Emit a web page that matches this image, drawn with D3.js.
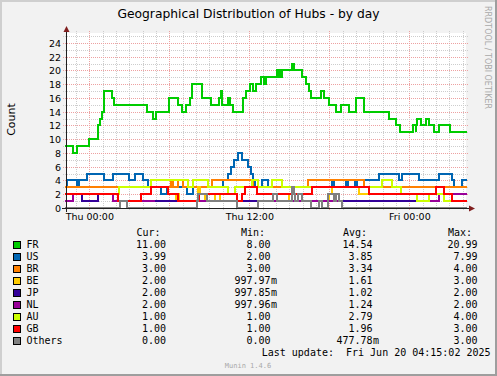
<!DOCTYPE html>
<html>
<head>
<meta charset="utf-8">
<script src="https://cdn.jsdelivr.net/npm/d3@7"></script>
<style>
html, body { margin: 0; padding: 0; background: #f2f2f2; }
svg { display: block; }
</style>
</head>
<body>
<div id="chart"></div>
<script>
// series names + munin colours, drawn in this order
var names  = ["FR", "US", "BR", "BE", "JP", "NL", "AU", "GB", "Others"];
var colors = ["#00cc00", "#0066b3", "#ff8000", "#ffcc00", "#330099", "#990099", "#ccff00", "#ff0000", "#808080"];

// step data: [hours since Thu 00:00, value]  (null = unknown)
var fr = [[-1.75,9],[-1.22,8],[-0.92,9],[0,10],[0.65,12],[0.80,13],[0.95,14],[1.10,17],[1.70,16],[1.85,15],
  [4.33,14],[4.78,13],[5.00,14],[5.98,16],[6.67,15],[6.95,14],[7.25,15],[7.55,16],[7.72,18],[8.47,16],
  [9.10,15],[9.73,16],[9.85,17],[9.95,15],[10.40,16],[10.55,15],[10.78,14],[11.53,16],[11.77,17],[12.03,18],
  [12.28,17],[12.48,18],[12.85,19],[13.10,18],[13.25,19],[14.10,20],[14.19,19],[14.30,20],[14.38,19],[14.45,20],
  [15.20,21],[15.35,20],[15.97,19],[16.23,18],[16.48,17],[16.60,16],[17.35,17],[17.60,16],[17.98,15],[18.48,14],
  [18.85,15],[19.48,14],[19.98,16],[20.60,14],[22.48,13],[23.02,12],[23.28,11],[24.28,12],[24.48,11],[24.52,12],
  [24.60,13],[24.85,12],[25.23,13],[25.48,12],[25.85,11],[26.23,12],[27.03,11]];
var us = [[-1.75,3],[-1.67,4],[-0.92,3],[-0.77,4],[-0.17,5],[1.08,4],[1.75,5],[3.00,4],[3.43,5],[4.00,4],
  [4.42,3],[5.38,2],[5.83,3],[7.33,2],[7.78,3],[10.06,4],[10.42,5],[10.63,6],[10.87,7],[11.17,8],
  [11.43,7],[11.92,6],[12.13,5],[12.30,4],[12.43,3],[12.93,4],[13.38,3],[18.20,4],[18.35,3],[19.25,4],
  [19.40,3],[19.93,4],[20.08,3],[20.60,4],[21.73,5],[23.23,4],[23.45,5],[24.73,4],[26.23,5],[27.20,4],
  [27.35,3],[27.95,4]];
var br = [[-1.75,3],[6.13,4],[6.28,3],[6.65,4],[7.03,3],[9.18,4],[12.30,3],[16.42,4],[20.60,3]];
var be = [[-1.75,2],[2.13,1],[6.50,2],[6.69,1],[8.13,3],[8.30,2],[8.68,1],[9.43,2],[9.80,1],[14.98,2],
  [15.42,1],[17.98,2],[18.20,3],[20.23,2]];
var jp = [[-1.75,1],[-1.25,2],[-0.55,1],[0.67,2],[1.75,1],[24.58,2]];
var nl = [[-1.75,1],[-1.25,2],[1.75,1],[4.87,null],[8.22,1],[11.05,null],[12.67,1],[18.95,null],[25.48,1],[26.23,2]];
var au = [[-1.75,2],[2.25,3],[4.63,4],[7.38,3],[7.75,4],[8.92,3],[10.42,2],[10.93,3],[12.18,4],[12.67,3],
  [13.68,4],[14.43,3],[21.97,4],[22.68,3],[23.35,2],[24.58,1],[25.48,2],[26.60,1]];
var gb = [[-1.75,2],[2.13,1],[3.88,2],[4.63,3],[5.88,2],[6.63,1],[8.25,2],[11.05,1],[11.43,2],[11.68,3],
  [12.55,2],[16.68,3],[20.98,2],[25.98,3],[26.60,2],[27.20,1]];
var others = [[-1.75,0],[2.30,1],[2.80,0],[8.08,1],[8.15,2],[8.83,1],[11.05,0],[12.67,1],[13.78,2],[14.10,1],
  [15.20,3],[15.35,2],[15.42,1],[15.65,2],[15.97,1],[16.60,0],[17.23,1],[17.45,0],[17.90,2],[18.35,1],
  [18.50,2],[18.73,1],[18.95,0]];
var series = [fr, us, br, be, jp, nl, au, gb, others];

// legend figures
var curVals = [11.00, 3.99, 3.00, 2.00, 2.00, 2.00, 1.00, 1.00, 0.00];
var minVals = [8.00, 2.00, 3.00, 0.99797, 0.99785, 0.99796, 1.00, 1.00, 0.00];
var avgVals = [14.54, 3.85, 3.34, 1.61, 1.02, 1.24, 2.79, 1.96, 0.47778];
var maxVals = [20.99, 7.99, 4.00, 3.00, 2.00, 2.00, 4.00, 3.00, 3.00];
var yTicks = [0, 2, 4, 6, 8, 10, 12, 14, 16, 18, 20, 22, 24];
var yMax = 25.45;

var W = 497, H = 376;
var t0 = new Date(2025, 5, 19, 0, 0, 0);          // Thu 00:00
var tStart = new Date(2025, 5, 18, 22, 15, 2);
var tEnd = new Date(2025, 5, 20, 4, 15, 2);
function at(h) { return new Date(+t0 + h * 3600e3); }

var x = d3.scaleTime().domain([tStart, tEnd]).range([66, 466]).clamp(true);
var y = d3.scaleLinear().domain([0, yMax]).range([208, 33]);

var svg = d3.select("#chart").append("svg")
    .attr("width", W)
    .attr("height", H)
    .attr("shape-rendering", "crispEdges");

// background + 3d frame
svg.append("rect").attr("width", W).attr("height", H).attr("fill", "#f2f2f2");
svg.append("rect").attr("x", 0).attr("y", 0).attr("width", W).attr("height", 2).attr("fill", "#cfcfcf");
svg.append("rect").attr("x", 0).attr("y", 0).attr("width", 2).attr("height", H).attr("fill", "#cfcfcf");
svg.append("rect").attr("x", 0).attr("y", H - 2).attr("width", W).attr("height", 2).attr("fill", "#9e9e9e");
svg.append("rect").attr("x", W - 2).attr("y", 0).attr("width", 2).attr("height", H).attr("fill", "#9e9e9e");

// canvas
svg.append("rect").attr("x", 66).attr("y", 33).attr("width", 400).attr("height", 175).attr("fill", "#ffffff");

// grid
var grid = svg.append("g").attr("stroke-dasharray", "1,1").attr("stroke-width", 1);
x.ticks(d3.timeHour.every(1)).forEach(function(t) {
  var xx = Math.round(x(t)) + 0.5;
  var major = t.getHours() % 6 == 0;
  grid.append("line")
      .attr("x1", xx).attr("x2", xx).attr("y1", 31).attr("y2", 211)
      .attr("stroke", major ? "#eda1a1" : "#cdcdcd");
});
d3.range(1, 26).forEach(function(v) {
  var yy = Math.round(y(v)) + 0.5;
  grid.append("line")
      .attr("x1", 63).attr("x2", 469).attr("y1", yy).attr("y2", yy)
      .attr("stroke", v % 2 == 0 ? "#eda1a1" : "#cdcdcd");
});

// turn [t, v] change points into explicit steps
function steps(s) {
  var pts = [];
  for (var i = 0; i < s.length; i++) {
    var tEndSeg = i + 1 < s.length ? at(s[i + 1][0]) : tEnd;
    pts.push({t: at(s[i][0]), v: s[i][1]});
    pts.push({t: tEndSeg, v: s[i][1]});
  }
  return pts;
}

var line = d3.line()
    .defined(function(d) { return d.v != null; })
    .x(function(d) { return Math.round(x(d.t)); })
    .y(function(d) { return Math.round(y(d.v)); });

var plot = svg.append("g");
series.forEach(function(s, i) {
  plot.append("path")
      .attr("d", line(steps(s)))
      .attr("fill", "none")
      .attr("stroke", colors[i])
      .attr("stroke-width", 2)
      .attr("stroke-linejoin", "miter")
      .attr("stroke-linecap", "square");
});

// axes lines + arrows
svg.append("line").attr("x1", 62).attr("x2", 470).attr("y1", 208.5).attr("y2", 208.5)
    .attr("stroke", "#1f1f1f");
svg.append("line").attr("x1", 66.5).attr("x2", 66.5).attr("y1", 212).attr("y2", 29)
    .attr("stroke", "#1f1f1f");
svg.append("path").attr("d", "M469,205.5L475,208.5L469,211.5Z").attr("fill", "#801f1f")
    .attr("shape-rendering", "auto");
svg.append("path").attr("d", "M63.5,32L66.5,26L69.5,32Z").attr("fill", "#801f1f")
    .attr("shape-rendering", "auto");

// axis labels through d3 axes
var xAxis = d3.axisBottom(x)
    .ticks(d3.timeHour.every(12))
    .tickFormat(d3.timeFormat("%a %H:%M"))
    .tickSize(0)
    .tickPadding(0);
var gx = svg.append("g").attr("transform", "translate(0,220)").call(xAxis);
gx.select(".domain").remove();
gx.selectAll("text")
    .attr("dy", 0)
    .attr("font-family", "DejaVu Sans")
    .attr("font-size", 9.5)
    .attr("fill", "#000");

var yAxis = d3.axisLeft(y).tickValues(yTicks).tickSize(0).tickPadding(0);
var gy = svg.append("g").attr("transform", "translate(61,0)").call(yAxis);
gy.select(".domain").remove();
gy.selectAll("text")
    .attr("dy", "0.36em")
    .attr("x", 0)
    .attr("font-family", "DejaVu Sans")
    .attr("font-size", 9.5)
    .attr("fill", "#000");

// title, vertical label, watermark
svg.append("text")
    .attr("x", 248.5).attr("y", 17.5)
    .attr("text-anchor", "middle")
    .attr("font-family", "DejaVu Sans")
    .attr("font-size", 12.3)
    .text("Geographical Distribution of Hubs - by day");

svg.append("text")
    .attr("transform", "translate(15,119.5) rotate(-90)")
    .attr("text-anchor", "middle")
    .attr("font-family", "DejaVu Sans")
    .attr("font-size", 11)
    .text("Count");

svg.append("text")
    .attr("transform", "translate(485,6) rotate(90)")
    .attr("font-family", "DejaVu Sans")
    .attr("font-size", 8)
    .attr("fill", "#a9a9a9")
    .text("RRDTOOL / TOBI OETIKER");

// legend
function fmt(v) {
  if (v != 0 && Math.abs(v) < 1) return {n: (v * 1000).toFixed(2), s: "m"};
  return {n: v.toFixed(2), s: ""};
}
var leg = svg.append("g")
    .attr("font-family", "DejaVu Sans Mono")
    .attr("font-size", 10)
    .attr("fill", "#000");
var colEnds = [166, 270.5, 372.5, 477.5];
var heads = ["Cur:", "Min:", "Avg:", "Max:"];
var cols = [curVals, minVals, avgVals, maxVals];
heads.forEach(function(h, c) {
  leg.append("text").attr("x", colEnds[c] - 29.5).attr("y", 236).text(h);
});
names.forEach(function(name, i) {
  var by = 248 + i * 12;
  leg.append("rect")
      .attr("x", 13.5).attr("y", by - 6.5)
      .attr("width", 7).attr("height", 7)
      .attr("fill", colors[i])
      .attr("stroke", "#000");
  leg.append("text").attr("x", 26.5).attr("y", by).text(name);
  cols.forEach(function(vals, c) {
    var f = fmt(vals[i]);
    leg.append("text").attr("x", colEnds[c]).attr("y", by)
        .attr("text-anchor", "end").text(f.n);
    if (f.s) leg.append("text").attr("x", colEnds[c] + 0.5).attr("y", by).text(f.s);
  });
});
leg.append("text")
    .attr("x", 490.5).attr("y", 356)
    .attr("text-anchor", "end")
    .style("white-space", "pre")
    .text("Last update:  Fri Jun 20 04:15:02 2025");

svg.append("text")
    .attr("x", 248).attr("y", 368)
    .attr("text-anchor", "middle")
    .attr("font-family", "DejaVu Sans Mono")
    .attr("font-size", 7)
    .attr("fill", "#a9a9a9")
    .text("Munin 1.4.6");
</script>
</body>
</html>
